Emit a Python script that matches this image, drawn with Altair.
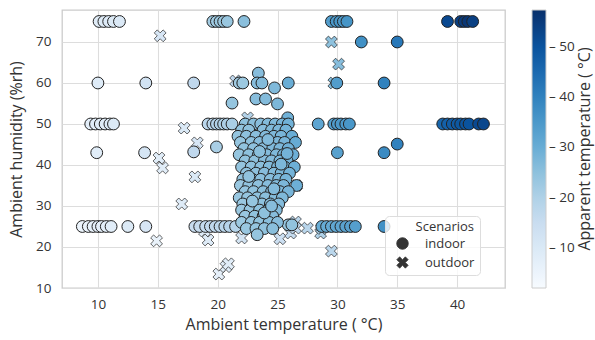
import altair as alt
import pandas as pd

FONT = "Open Sans"

# ---------------- data (temperature, humidity, apparent temperature) ----------------
indoor_row75 = [(10.1, 75, 8.5), (10.5, 75, 8.8), (10.9, 75, 9.2), (11.3, 75, 9.4), (11.8, 75, 9.8),
                (19.6, 75, 22), (19.9, 75, 22.5), (20.2, 75, 23), (20.5, 75, 23), (20.8, 75, 23.5), (22.2, 75, 25.5),
                (29.5, 75, 34), (29.9, 75, 35), (30.2, 75, 35.5), (30.5, 75, 35), (30.8, 75, 36),
                (39.2, 75, 52), (40.3, 75, 54), (40.6, 75, 55), (40.9, 75, 56), (41.3, 75, 54)]
indoor_row70 = [(32.0, 70, 37), (35.0, 70, 42)]
indoor_row60 = [(10.0, 60, 9), (14.0, 60, 12.5), (18.0, 60, 17), (21.8, 60, 22), (22.1, 60, 23),
                (23.4, 62.4, 26), (23.3, 60, 26), (23.7, 60, 26.5), (24.75, 58.8, 27), (25.9, 60, 30),
                (29.95, 60, 34), (33.9, 60, 40)]
indoor_row55 = [(21.2, 55.1, 24), (23.2, 56.1, 26), (24.0, 56.1, 26.5), (25.0, 54.9, 27.5), (25.85, 51.5, 29)]
indoor_row50 = [(9.4, 50, 7.5), (9.8, 50, 8), (10.2, 50, 8.5), (10.6, 50, 8.5), (11.0, 50, 9), (11.3, 50, 9.5),
                (19.2, 50, 18), (19.6, 50, 18.5), (19.9, 50, 19), (20.2, 50, 19.5), (20.5, 50, 20), (20.8, 50, 20.5),
                (21.2, 50, 21),
                (28.4, 50, 32), (29.7, 50, 34), (30.0, 50, 34.5), (30.3, 50, 35), (30.7, 50, 35), (31.0, 50, 35.5),
                (38.8, 50, 46), (39.2, 50, 47), (39.6, 50, 48), (40.0, 50, 48.5), (40.3, 50, 49), (40.7, 50, 49.5),
                (41.0, 50, 50), (41.8, 50, 52), (42.2, 50, 52.5)]
indoor_row43 = [(9.9, 43, 8), (13.9, 43, 11.5), (18.0, 43.2, 17), (19.9, 44.4, 21), (30.0, 43, 33),
                (33.9, 43, 38), (35.0, 45.1, 40)]
indoor_row25 = [(8.7, 25, 5), (9.2, 25, 6), (9.6, 25, 6.5), (10.0, 25, 7), (10.3, 25, 7), (10.7, 25, 7.5),
                (11.1, 25, 8), (12.5, 25, 9.5), (14.0, 25, 11),
                (18.1, 25, 15), (18.5, 25, 15.5), (19.0, 25, 16), (19.4, 25, 16.5), (19.8, 25, 17), (20.2, 25, 17.5),
                (20.6, 25, 18), (21.0, 25, 18.5), (21.5, 25, 19),
                (25.9, 25.4, 24), (26.2, 25.4, 24.5),
                (28.7, 25, 30), (29.1, 25, 30.5), (29.5, 25, 31), (29.9, 25, 31.5), (30.3, 25, 32), (30.7, 25, 32.5),
                (31.1, 25, 33), (31.5, 25, 33.5), (33.9, 25, 37)]
indoor_cluster = [
    (22.3, 50, 25), (23.0, 50, 25.5), (23.6, 50, 26), (24.2, 50, 26.5), (24.8, 50, 27), (25.4, 50, 28), (25.9, 50, 29),
    (22.0, 48.5, 24.5), (22.6, 48.5, 25), (23.8, 48.5, 26), (24.5, 48.5, 27), (25.1, 48.5, 27.5), (25.7, 48.5, 28.5),
    (21.7, 47, 24), (22.4, 47, 25), (23.2, 47, 25.5), (24.0, 47, 26.5), (24.7, 47, 27), (25.3, 47, 28), (26.2, 47, 30),
    (21.9, 45.5, 24), (22.8, 45.5, 25), (23.5, 45.5, 26), (24.3, 45.5, 26.5), (25.0, 45.5, 27.5), (25.6, 45.5, 28),
    (26.5, 45.5, 30.5),
    (22.2, 44, 24.5), (23.0, 44, 25), (23.8, 44, 26), (24.6, 44, 27), (25.2, 44, 27.5), (25.9, 44, 29),
    (21.8, 42.5, 24), (22.6, 42.5, 25), (23.4, 42.5, 25.5), (24.1, 42.5, 26.5), (24.9, 42.5, 27), (25.5, 42.5, 28),
    (26.3, 42.5, 29.5),
    (22.3, 41, 24.5), (23.1, 41, 25), (23.9, 41, 26), (24.5, 41, 26.5), (25.2, 41, 27.5), (25.8, 41, 28.5),
    (22.0, 39.5, 24), (22.8, 39.5, 25), (23.6, 39.5, 25.5), (24.3, 39.5, 26.5), (25.0, 39.5, 27), (25.6, 39.5, 28),
    (26.4, 39.5, 29.5),
    (22.4, 38, 24.5), (23.2, 38, 25), (23.9, 38, 26), (24.7, 38, 26.5), (25.3, 38, 27.5), (26.0, 38, 28.5),
    (22.1, 36.5, 24), (22.9, 36.5, 25), (23.6, 36.5, 25.5), (24.4, 36.5, 26), (25.1, 36.5, 27), (25.7, 36.5, 28),
    (21.9, 35, 23.5), (22.6, 35, 24.5), (23.4, 35, 25), (24.2, 35, 26), (24.9, 35, 26.5), (25.5, 35, 27.5),
    (26.6, 35, 29.5),
    (22.3, 33.5, 24), (23.0, 33.5, 24.5), (23.8, 33.5, 25.5), (24.5, 33.5, 26), (25.2, 33.5, 27), (25.9, 33.5, 28),
    (21.8, 32, 23.5), (22.5, 32, 24), (23.3, 32, 25), (24.0, 32, 25.5), (24.8, 32, 26.5), (25.4, 32, 27),
    (22.1, 30.5, 23.5), (22.9, 30.5, 24.5), (23.7, 30.5, 25), (24.4, 30.5, 26), (25.1, 30.5, 26.5),
    (22.0, 29, 23.5), (22.7, 29, 24), (23.5, 29, 25), (24.2, 29, 25.5), (24.9, 29, 26.5),
    (22.3, 27.5, 23.5), (23.1, 27.5, 24.5), (23.8, 27.5, 25), (24.6, 27.5, 26),
    (22.0, 26, 23), (22.8, 26, 24), (23.5, 26, 24.5), (24.3, 26, 25.5), (25.0, 26, 26),
    (22.4, 24.5, 23.5), (23.2, 24.5, 24), (23.9, 24.5, 24.5), (24.6, 24.5, 25.5),
    (23.3, 23, 24),
    (22.6, 37.2, 24.5), (23.5, 43.3, 25.5), (24.7, 34.2, 26.5), (23.9, 28.3, 25), (24.2, 46.2, 26.5),
    (25.3, 40.2, 27.5), (22.9, 31.2, 24), (25.8, 42.8, 28.5), (24.5, 30.0, 26)]

outdoor_points = [(15.2, 71.5, 11), (29.5, 70, 25), (30.1, 64.6, 26), (29.7, 60, 26), (21.5, 60.5, 17),
                  (22.5, 51.5, 19), (17.2, 49, 10), (18.3, 45.4, 11), (15.1, 41.7, 8), (15.4, 39.3, 8),
                  (18.1, 37.1, 10), (17.0, 30.5, 9), (14.9, 21.5, 6), (18.9, 23.9, 9), (19.2, 21.7, 9),
                  (20.1, 13.4, 7), (20.7, 15.2, 8), (20.9, 15.9, 8), (22.0, 22.2, 12), (24.75, 27.6, 17),
                  (25.2, 22.0, 14), (26.1, 23.4, 16), (26.5, 26.1, 18), (26.5, 24.6, 17), (27.5, 24.6, 18),
                  (28.6, 23.4, 20), (28.7, 24.5, 21), (29.5, 19.0, 18), (26.6, 35.0, 20)]

x_ticks = [10, 15, 20, 25, 30, 35, 40]
y_ticks = [10, 20, 30, 40, 50, 60, 70]
cbar_ticks = [10, 20, 30, 40, 50]
scenarios = ["indoor", "outdoor"]
cbar_title = "Apparent temperature ( °C)"

blues = ["#f7fbff", "#deebf7", "#c6dbef", "#9ecae1", "#6baed6", "#4292c6", "#2171b5", "#08519c", "#08306b"]
c_min, c_max = 2.0, 57.4
stops = [c_min + i * (c_max - c_min) / 8 for i in range(9)]

X_PATH = "M-0.5,-1L0,-0.5L0.5,-1L1,-0.5L0.5,0L1,0.5L0.5,1L0,0.5L-0.5,1L-1,0.5L-0.5,0L-1,-0.5Z"

records = []
for t, h, a in outdoor_points:
    records.append({"temp": t, "hum": h, "app": a, "Scenarios": "outdoor"})
for grp in [indoor_row75, indoor_row70, indoor_row60, indoor_row55, indoor_row50, indoor_row43,
            indoor_row25, indoor_cluster]:
    for t, h, a in grp:
        records.append({"temp": t, "hum": h, "app": a, "Scenarios": "indoor"})
df = pd.DataFrame(records)

base = alt.Chart(df)

enc_x = alt.X("temp:Q", scale=alt.Scale(domain=[7, 44], nice=False, zero=False),
              axis=alt.Axis(values=x_ticks, title="Ambient temperature ( °C)", labelPadding=9, titlePadding=6))
enc_y = alt.Y("hum:Q", scale=alt.Scale(domain=[10, 77.8], nice=False, zero=False),
              axis=alt.Axis(values=y_ticks, title="Ambient humidity (%rh)", labelPadding=11, titlePadding=11))

points = base.mark_point(
    filled=True, size=140, opacity=1, stroke="#222222", strokeWidth=1
).encode(
    x=enc_x,
    y=enc_y,
    color=alt.Color("app:Q", title=None,
                    scale=alt.Scale(domain=stops, range=blues),
                    legend=alt.Legend(orient="right", direction="vertical", gradientLength=278,
                                      gradientThickness=14, values=cbar_ticks, labelExpr="'– ' + datum.label",
                                      labelOffset=3, offset=27, gradientStrokeColor="#cccccc",
                                      gradientStrokeWidth=1, labelFontSize=13.5, labelColor="#333333",
                                      labelFont=FONT)),
    shape=alt.Shape("Scenarios:N", scale=alt.Scale(domain=scenarios, range=["circle", X_PATH]),
                    legend=alt.Legend(orient="none", legendX=323, legendY=206, title="Scenarios",
                                      titleAnchor="end", titleFontWeight="normal", titleFontSize=13,
                                      titleColor="#333333", titleFont=FONT, titlePadding=3,
                                      labelFontSize=13, labelColor="#333333", labelFont=FONT,
                                      labelExpr="datum.label + '\u00a0\u00a0\u00a0'",
                                      symbolFillColor="#333333", symbolStrokeColor="#333333",
                                      symbolStrokeWidth=0.5, symbolSize=130, symbolOffset=6,
                                      labelOffset=16, rowPadding=3, padding=5,
                                      fillColor="rgba(255,255,255,0.8)", strokeColor="#dddddd",
                                      cornerRadius=4)),
    strokeWidth=alt.StrokeWidth("Scenarios:N", scale=alt.Scale(domain=scenarios, range=[1.0, 0.7]),
                                legend=None),
)

ctitle = alt.Chart(pd.DataFrame({"t": [cbar_title]})).mark_text(
    angle=270, fontSize=16, font=FONT, color="#333333", baseline="middle", align="center"
).encode(x=alt.value(523), y=alt.value(139), text="t:N")

chart = alt.layer(points, ctitle).properties(
    width=443, height=278,
    autosize=alt.AutoSizeParams(type="none"),
    padding={"left": 62, "top": 10, "right": 90, "bottom": 52},
    background="white",
).configure_view(
    stroke="#cccccc", strokeWidth=1.3
).configure_axis(
    domain=False, ticks=False, gridColor="#dddddd", gridWidth=1.1,
    labelFont=FONT, labelFontSize=13.5, labelColor="#333333",
    titleFont=FONT, titleFontSize=16, titleColor="#333333", titleFontWeight="normal"
)

chart.save("out.html", embed_options={"renderer": "svg", "actions": False})
